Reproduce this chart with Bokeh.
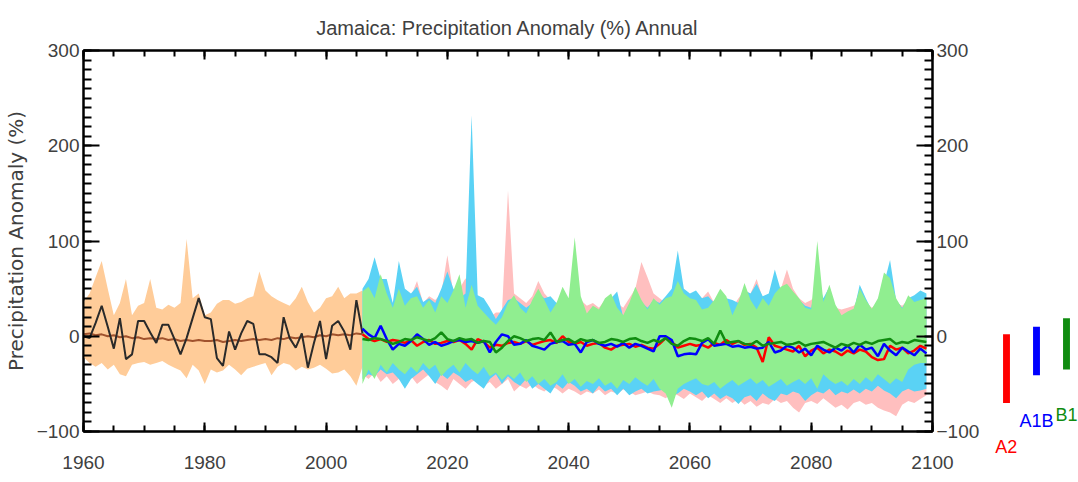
from bokeh.plotting import figure
from bokeh.models import (Range1d, LinearAxis, SingleIntervalTicker,
                          CustomJSTickFormatter, Label, Title)
from bokeh.layouts import row
from bokeh.embed import file_html
from bokeh.resources import INLINE

# ---------------------------------------------------------------- data
hist_years = list(range(1960, 2007))
fut_years = list(range(2006, 2100))

# observed annual anomaly (%)
observed = [0, -2, 14, 32, 10, -13, 19, -24, -19, 16,
            16, 4, -7, 12, 12, -3, -19, -2, 19, 40,
            20, 18, -23, -31, 5, -14, 3, 16, 13, -19,
            -19, -22, -28, 20, -2, -12, 3, -33, -7, 16,
            -24, 11, 16, 5, -14, 38, 3]

# model ensemble, historical run
hist_median = [2, 3, 1, 2, 0, 1, -1, 0, -2, -1,
               -3, -2, -3, -2, -4, -3, -5, -4, -5, -4,
               -5, -5, -4, -6, -5, -4, -5, -4, -3, -4,
               -3, -4, -2, -3, -1, -2, -1, 0, -1, 1,
               0, 2, 1, 2, 1, 3, 2]
hist_max = [36, 45, 62, 79, 50, 22, 35, 60, 22, 32,
            35, 60, 30, 28, 33, 30, 35, 102, 40, 45,
            22, 25, 34, 38, 38, 34, 36, 40, 42, 68,
            48, 42, 38, 35, 32, 40, 52, 36, 25, 30,
            40, 42, 52, 40, 45, 45, 48]
hist_min = [-22, -28, -32, -28, -35, -30, -40, -42, -30, -28,
            -27, -30, -28, -26, -30, -33, -36, -44, -30, -36,
            -50, -35, -38, -36, -30, -35, -41, -34, -32, -30,
            -28, -41, -32, -28, -30, -36, -32, -35, -33, -30,
            -34, -39, -38, -35, -42, -52, -32]

# scenario A2
a2_max = [45, 40, 50, 45, 40, 35, 45, 38, 42, 58,
          35, 42, 38, 45, 85, 45, 50, 61, 40, 35,
          30, 20, 25, 25, 153, 45, 40, 35, 42, 58,
          45, 38, 30, 40, 35, 45, 38, 32, 35, 30,
          38, 42, 35, 30, 40, 50, 78, 62, 45, 40,
          35, 40, 45, 42, 38, 35, 40, 47, 35, 42,
          38, 30, 40, 48, 45, 60, 40, 38, 42, 50,
          70, 50, 40, 35, 38, 45, 35, 38, 30, 28,
          30, 32, 40, 35, 30, 35, 45, 50, 35, 32,
          38, 35, 30, 28]
a2_min = [-40, -45, -38, -48, -42, -50, -45, -48, -42, -50,
          -45, -40, -48, -52, -57, -45, -50, -55, -48, -45,
          -52, -48, -55, -50, -45, -58, -52, -55, -50, -55,
          -58, -52, -55, -60, -55, -58, -62, -58, -60, -56,
          -62, -58, -60, -56, -58, -62, -60, -58, -61, -62,
          -65, -60, -62, -66, -60, -64, -68, -62, -66, -70,
          -65, -70, -66, -72, -68, -74, -70, -72, -66, -70,
          -68, -75, -80, -70, -68, -71, -65, -70, -75, -72,
          -77, -70, -68, -72, -70, -75, -78, -80, -84, -72,
          -68, -70, -66, -62]
a2_median = [2, -3, -5, -3, -6, -4, -5, -7, -4, -10,
             -6, -4, -8, -7, -5, -6, -4, -8, -14, -3,
             -6, -12, -9, -10, -7, -6, -8, -5, -9, -7,
             -5, -4, -7, 0, -6, -8, -6, -10, -8, -7,
             -12, -14, -10, -9, -8, -11, -9, -12, -13, -8,
             -2, -6, -12, -10, -8, -10, -9, -12, -7, -9,
             -4, -8, -5, -9, -8, -12, -27, -1, -10, -12,
             -14, -16, -10, -21, -15, -12, -18, -14, -16, -20,
             -15, -18, -14, -16, -22, -25, -24, -10, -14, -12,
             -18, -15, -10, -13]

# scenario A1B
a1b_max = [50, 60, 83, 60, 60, 35, 79, 50, 45, 52,
           36, 40, 35, 50, 68, 50, 40, 45, 232, 43,
           40, 30, 18, 28, 38, 40, 35, 30, 35, 45,
           40, 42, 35, 45, 38, 60, 38, 22, 30, 26,
           38, 40, 47, 20, 33, 45, 36, 30, 38, 35,
           42, 50, 90, 50, 45, 48, 40, 42, 35, 45,
           40, 38, 35, 48, 45, 55, 42, 45, 70, 48,
           50, 45, 38, 32, 30, 60, 40, 52, 30, 20,
           24, 26, 54, 40, 27, 35, 55, 80, 38, 30,
           40, 43, 48, 45]
a1b_min = [-45, -40, -42, -35, -40, -38, -45, -55, -45, -40,
           -35, -42, -50, -40, -45, -38, -42, -48, -45, -50,
           -55, -45, -40, -50, -42, -48, -52, -45, -55, -50,
           -55, -60, -50, -55, -48, -52, -58, -55, -60, -52,
           -58, -55, -62, -55, -62, -58, -55, -60, -58, -57,
           -55, -62, -60, -55, -58, -62, -58, -65, -60, -66,
           -62, -65, -71, -64, -62, -68, -60, -65, -68, -60,
           -62, -58, -60, -68, -62, -58, -60, -55, -62, -58,
           -60, -56, -60, -55, -58, -52, -57, -60, -65, -58,
           -55, -58, -57, -55]
a1b_median = [8, 2, -2, 11, -3, -14, -8, -10, -5, 2,
              -3, -9, -6, -10, -8, -5, -4, -6, -5, -7,
              -5, -17, -6, 2, 0, -9, -8, -4, -10, -12,
              -14, -8, -6, -5, -9, -8, -17, -6, -4, -8,
              -10, -8, -11, -7, -12, -8, -10, -13, -16, 0,
              0, -4, -21, -19, -18, -19, -7, -3, -10, -9,
              -8, -11, -10, -12, -11, -13, -12, -6, -17, -15,
              -10, -12, -17, -13, -20, -10, -14, -17, -12, -15,
              -10, -17, -9, -14, -12, -21, -8, -15, -20, -12,
              -16, -20, -13, -18]

# scenario B1
b1_max = [47, 52, 40, 65, 45, 30, 50, 32, 40, 42,
          30, 38, 25, 42, 35, 48, 65, 30, 54, 32,
          25, 18, 12, 20, 35, 43, 30, 24, 38, 50,
          38, 25, 35, 52, 40, 104, 42, 24, 32, 28,
          40, 45, 30, 22, 35, 52, 38, 28, 40, 33,
          40, 42, 58, 45, 40, 38, 28, 30, 38, 50,
          42, 22, 36, 56, 38, 28, 40, 32, 45, 52,
          55, 47, 40, 30, 28, 100, 36, 54, 33, 22,
          26, 29, 50, 38, 29, 40, 67, 61, 40, 29,
          43, 36, 38, 40]
b1_min = [-50, -35, -45, -30, -38, -28, -35, -40, -32, -38,
          -28, -35, -30, -42, -35, -30, -38, -28, -35, -40,
          -32, -42, -38, -46, -40, -45, -38, -48, -42, -50,
          -45, -52, -48, -40, -50, -45, -53, -47, -50, -44,
          -52, -48, -55, -46, -50, -43, -48, -52, -45, -55,
          -60, -75, -55, -50, -47, -44, -50, -52, -48, -55,
          -50, -46, -52, -48, -44, -50, -46, -53, -49, -45,
          -52, -48, -45, -50, -44, -55, -40, -46, -50, -47,
          -52, -45, -50, -43, -48, -40, -45, -50, -44, -48,
          -35, -30, -28, -28]
b1_median = [-3, -4, -2, -3, -5, -8, -6, -3, -4, -1,
             -3, -5, -2, 4, -3, -5, -2, -4, -3, -7,
             -5, -6, -17, -12, -5, 0, -2, -5, -3, -2,
             -4, 4, -6, -4, -3, -7, -3, -5, -4, -7,
             -6, -3, -4, -6, -3, -2, -5, -7, -4, -6,
             -2, -8, -10, -5, -2, -3, -5, -2, -8, 6,
             -7, -6, -5, -8, -9, -5, -10, -8, -7, -6,
             -9, -8, -6, -10, -8, -7, -6, -9, -12, -8,
             -10, -7, -9, -6, -8, -5, -4, -3, -8, -6,
             -7, -4, -5, -6]

# end-of-century change by scenario (side key)
scenarios = ["A2", "A1B", "B1"]
key_top = [2, 10, 19]
key_bottom = [-70, -41, -35]

# ---------------------------------------------------------------- style
FONT = "Liberation Sans"
TXT = "#404040"
ORANGE = "#FFCC99"
PINK = "#FFBFBF"
CYAN = "#5AD2F5"
LGREEN = "#90EE90"
RED = "#FF0000"
BLUE = "#0000FF"
DGREEN = "#108C10"
KEY_COLORS = [RED, BLUE, DGREEN]

Y_LO, Y_HI = -100, 300
H = 482
TOP, BOTTOM = 50, 51
MAIN_W = 988

p = figure(width=MAIN_W, height=H,
           x_range=Range1d(1960, 2100), y_range=Range1d(Y_LO, Y_HI),
           output_backend="svg", toolbar_location=None,
           min_border_left=82, min_border_right=56,
           min_border_top=TOP, min_border_bottom=BOTTOM)
p.grid.visible = False
p.outline_line_color = "black"
p.outline_line_width = 2
p.background_fill_color = "white"
p.border_fill_color = "white"

p.title.text = "Jamaica: Precipitation Anomaly (%) Annual"
p.title.align = "center"
p.title.text_font = FONT
p.title.text_font_size = "20px"
p.title.text_font_style = "normal"
p.title.text_color = TXT
p.title.standoff = 24


def style_axis(ax, major_in, minor_in):
    ax.axis_line_color = "black"
    ax.axis_line_width = 2
    ax.major_tick_in = major_in
    ax.major_tick_out = 0
    ax.minor_tick_in = minor_in
    ax.minor_tick_out = 0
    ax.major_tick_line_width = 2
    ax.minor_tick_line_width = 2
    ax.major_label_text_font = FONT
    ax.major_label_text_font_size = "19px"
    ax.major_label_text_color = TXT


xaxis = p.xaxis[0]
xaxis.ticker = SingleIntervalTicker(interval=20, num_minor_ticks=4)
style_axis(xaxis, 9, 6)
xaxis.major_label_standoff = 24

yaxis = p.yaxis[0]
yaxis.ticker = SingleIntervalTicker(interval=100, num_minor_ticks=10)
style_axis(yaxis, 16, 8)
yaxis.major_label_standoff = 4
yaxis.axis_label = "Precipitation Anomaly (%)"
yaxis.axis_label_text_font = "DejaVu Sans"
yaxis.axis_label_text_font_size = "20px"
yaxis.axis_label_text_font_style = "normal"
yaxis.axis_label_text_color = TXT
yaxis.axis_label_standoff = 6

right_axis = LinearAxis(ticker=SingleIntervalTicker(interval=100, num_minor_ticks=10))
style_axis(right_axis, 16, 8)
right_axis.major_label_standoff = 4
p.add_layout(right_axis, "right")

top_axis = LinearAxis(ticker=SingleIntervalTicker(interval=20, num_minor_ticks=4),
                      formatter=CustomJSTickFormatter(code="return ''"))
style_axis(top_axis, 9, 6)
top_axis.major_label_standoff = 0
p.add_layout(top_axis, "above")

# envelopes
p.varea(x=hist_years, y1=hist_min, y2=hist_max, fill_color=ORANGE)
p.varea(x=fut_years, y1=a2_min, y2=a2_max, fill_color=PINK)
p.varea(x=fut_years, y1=a1b_min, y2=a1b_max, fill_color=CYAN)
p.varea(x=fut_years, y1=b1_min, y2=b1_max, fill_color=LGREEN)

# medians and observations
p.line(hist_years, hist_median, line_color="#A0522D", line_width=2)
p.line(hist_years, observed, line_color="#2A2A2A", line_width=2)
p.line(fut_years, a2_median, line_color=RED, line_width=2.5)
p.line(fut_years, a1b_median, line_color=BLUE, line_width=2.5)
p.line(fut_years, b1_median, line_color=DGREEN, line_width=2.5)

# ---------------------------------------------------------------- side key
KEY_W = 1078 - MAIN_W
slot = 30.0
lead = 18.0
label_gap = 37          # label sits this many % below the bar
label_px = 18
key_x = [i + 1 for i in range(len(scenarios))]
k = figure(width=KEY_W, height=H,
           x_range=Range1d(1 - lead / slot, 1 - lead / slot + KEY_W / slot),
           y_range=Range1d(Y_LO, Y_HI),
           output_backend="svg", toolbar_location=None,
           x_axis_location=None, y_axis_location=None,
           min_border_left=0, min_border_right=0,
           min_border_top=TOP, min_border_bottom=BOTTOM)
k.grid.visible = False
k.outline_line_color = None
k.vbar(x=key_x, bottom=key_bottom, top=key_top, width=0.23,
       fill_color=KEY_COLORS, line_color=None)

ppu = (H - TOP - BOTTOM) / (Y_HI - Y_LO)
for i, (xi, bottom, name, color) in enumerate(zip(key_x, key_bottom, scenarios, KEY_COLORS)):
    y_lab = bottom - label_gap
    if y_lab >= Y_LO:
        k.add_layout(Label(x=xi, y=y_lab, text=name, text_color=color,
                           text_align="center", text_baseline="top",
                           text_font=FONT, text_font_size=f"{label_px}px"))
    else:
        # below the frame: carried by a title in the lower border
        centre = lead + i * slot
        k.add_layout(Title(text=name, text_color=color, align="left",
                           offset=centre - 0.62 * label_px * len(name) / 2,
                           standoff=(Y_LO - y_lab) * ppu,
                           text_font=FONT, text_font_size=f"{label_px}px",
                           text_font_style="normal"), "below")

layout = row(p, k)
open("out.html", "w").write(file_html(layout, INLINE))
